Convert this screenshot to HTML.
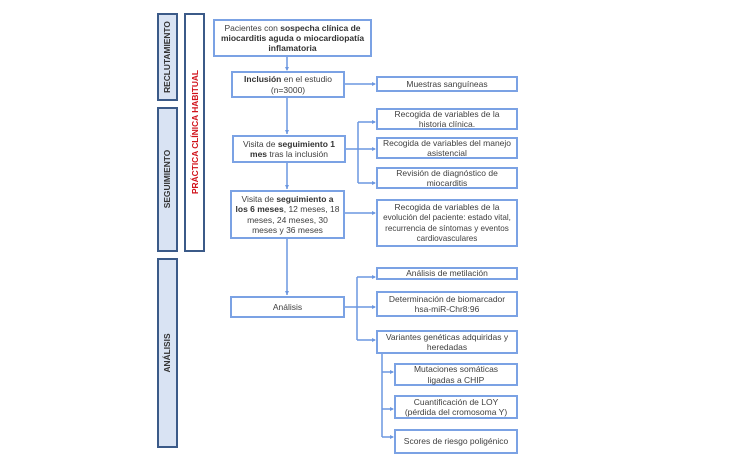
<!DOCTYPE html>
<html><head><meta charset="utf-8"><style>
html,body{margin:0;padding:0;background:#fff}
#p{position:relative;width:750px;height:469px;overflow:hidden;font-family:"Liberation Sans",sans-serif;color:#404040;filter:blur(.3px)}
.b{position:absolute;box-sizing:border-box;border:2px solid #7ba2e4;background:#fff;display:flex;align-items:center;justify-content:center;text-align:center;font-size:8.5px;line-height:10.2px;white-space:nowrap}
.s{position:absolute;box-sizing:border-box;border:2px solid #3b5a88;background:#d9e3f3}
.v{position:absolute;white-space:nowrap;font-weight:bold;font-size:8.4px;transform:translate(-50%,-50%) rotate(-90deg);color:#333}
svg{position:absolute;left:0;top:0}
b{color:#333}
</style></head><body><div id="p">
<div class="s" style="left:157px;top:13px;width:21px;height:88px"></div>
<div class="s" style="left:157px;top:107px;width:21px;height:145px"></div>
<div class="s" style="left:157px;top:258px;width:21px;height:190px"></div>
<div class="s" style="left:184px;top:13px;width:21px;height:239px;background:#fff"></div>
<div class="v" style="left:167px;top:57px">RECLUTAMIENTO</div>
<div class="v" style="left:167px;top:179px">SEGUIMIENTO</div>
<div class="v" style="left:167px;top:353px">ANÁLISIS</div>
<div class="v" style="left:195px;top:132px;color:#d0121b">PRÁCTICA CLÍNICA HABITUAL</div>
<svg width="750" height="469" fill="none" stroke="#6c97e0" stroke-width="1.5">
<path d="M287 57V70M287 98V134M287 163V189M287 239V295"/>
<path d="M345 84H375M346 149H375M358 122V183M358 122H375M358 183H375M345 213H375"/>
<path d="M345 307H375M357 277V340M357 277H375M357 340H375"/>
<path d="M382 354V437M382 372H393M382 409H393M382 437H393"/>
<g fill="#6c97e0" stroke="none">
<path d="M285 67h4l-2 4zM285 130h4l-2 4zM285 185h4l-2 4zM285 291h4l-2 4z"/>
<path d="M372 82v4l4-2zM372 120v4l4-2zM372 147v4l4-2zM372 181v4l4-2zM372 211v4l4-2zM372 275v4l4-2zM372 305v4l4-2zM372 338v4l4-2z"/>
<path d="M390 370v4l4-2zM390 407v4l4-2zM390 435v4l4-2z"/>
</g></svg>
<div class="b" style="left:213px;top:19px;width:159px;height:38px"><span>Pacientes con <b>sospecha clínica de<br>miocarditis aguda o miocardiopatía<br>inflamatoria</b></span></div>
<div class="b" style="left:231px;top:71px;width:114px;height:27px"><span><b>Inclusión</b> en el estudio<br>(n=3000)</span></div>
<div class="b" style="left:232px;top:135px;width:114px;height:28px"><span>Visita de <b>seguimiento 1<br>mes</b> tras la inclusión</span></div>
<div class="b" style="left:230px;top:190px;width:115px;height:49px"><span>Visita de <b>seguimiento a<br>los 6 meses</b>, 12 meses, 18<br>meses, 24 meses, 30<br>meses y 36 meses</span></div>
<div class="b" style="left:230px;top:296px;width:115px;height:22px">Análisis</div>
<div class="b" style="left:376px;top:76px;width:142px;height:16px">Muestras sanguíneas</div>
<div class="b" style="left:376px;top:108px;width:142px;height:22px"><span>Recogida de variables de la<br>historia clínica.</span></div>
<div class="b" style="left:376px;top:137px;width:142px;height:22px"><span>Recogida de variables del manejo<br>asistencial</span></div>
<div class="b" style="left:376px;top:167px;width:142px;height:22px"><span>Revisión de diagnóstico de<br>miocarditis</span></div>
<div class="b" style="left:376px;top:199px;width:142px;height:48px;font-size:8.1px"><span><span style="font-size:8.5px">Recogida de variables de la</span><br>evolución del paciente: estado vital,<br>recurrencia de síntomas y eventos<br>cardiovasculares</span></div>
<div class="b" style="left:376px;top:267px;width:142px;height:13px">Análisis de metilación</div>
<div class="b" style="left:376px;top:291px;width:142px;height:26px"><span>Determinación de biomarcador<br>hsa-miR-Chr8:96</span></div>
<div class="b" style="left:376px;top:330px;width:142px;height:24px"><span>Variantes genéticas adquiridas y<br>heredadas</span></div>
<div class="b" style="left:394px;top:363px;width:124px;height:23px"><span>Mutaciones somáticas<br>ligadas a CHIP</span></div>
<div class="b" style="left:394px;top:395px;width:124px;height:24px"><span>Cuantificación de LOY<br>(pérdida del cromosoma Y)</span></div>
<div class="b" style="left:394px;top:429px;width:124px;height:25px">Scores de riesgo poligénico</div>
</div></body></html>
